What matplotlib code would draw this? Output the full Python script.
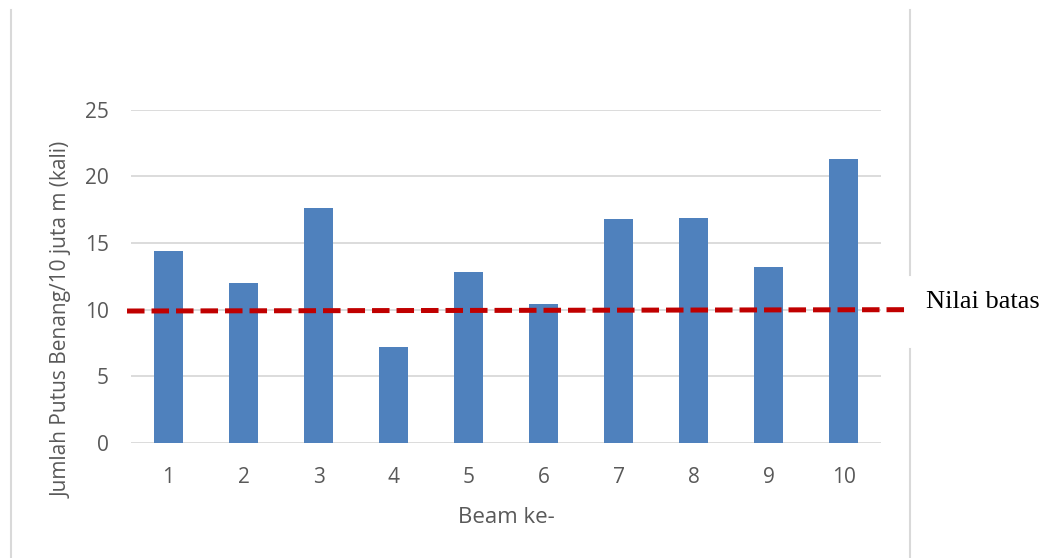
import numpy as np
import matplotlib
matplotlib.use("Agg")
import matplotlib.pyplot as plt
from matplotlib.lines import Line2D

# jumlah putus benang per beam
beam = ['1', '2', '3', '4', '5', '6', '7', '8', '9', '10']
putus = [14.4, 12.0, 17.6, 7.2, 12.8, 10.4, 16.8, 16.9, 13.2, 21.3]
batas = [9.9, 10.0]   # garis nilai batas (ujung kiri, ujung kanan)

W, H = 1047, 558
fig = plt.figure(figsize=(W / 100, H / 100), dpi=100)
plt.rcParams['font.family'] = ['Open Sans', 'DejaVu Sans']

ax = fig.add_axes([131 / W, 1 - 443 / H, 750 / W, (443 - 109.7) / H])
x = np.arange(len(beam))
ax.bar(x, putus, width=0.39, color='#4f81bd', zorder=2)
ax.set_xlim(-0.5, len(beam) - 0.5)
ax.set_ylim(0, 25)
ax.set_yticks([0, 5, 10, 15, 20, 25])
ax.set_xticks(x)
ax.set_xticklabels(beam)
ax.grid(axis='y', color='#d9d9d9', linewidth=1.3, zorder=0)
for s in ax.spines.values():
    s.set_visible(False)
ax.tick_params(length=0, labelsize=15, labelcolor='#595959', pad=16)
ax.tick_params(axis='x', pad=17)
ax.set_xlabel('Beam ke-', fontsize=16, color='#595959', labelpad=14)
ax.set_ylabel('Jumlah Putus Benang/10 juta m (kali)', fontsize=15,
              color='#595959', va='center')
ax.yaxis.set_label_coords(-0.092, 0.369)

# garis putus-putus merah
ax.plot([-0.553, 9.82], batas, color='#c00000', linewidth=3.6,
        linestyle=(0, (3.5, 1.4)), clip_on=False, zorder=3)
fig.text(926 / W, 1 - 302 / H, 'Nilai batas', family='Liberation Serif',
         fontsize=19, va='center', ha='left', color='black')

# garis bingkai
px = lambda v: v / W
py = lambda v: 1 - v / H
fig.add_artist(Line2D([px(11), px(11)], [py(10), py(558)], color='#d9d9d9', lw=1.5))
fig.add_artist(Line2D([px(910), px(910)], [py(10), py(275)], color='#d9d9d9', lw=1.5))
fig.add_artist(Line2D([px(910), px(910)], [py(349), py(558)], color='#d9d9d9', lw=1.5))

fig.savefig('out.png', dpi=100)
